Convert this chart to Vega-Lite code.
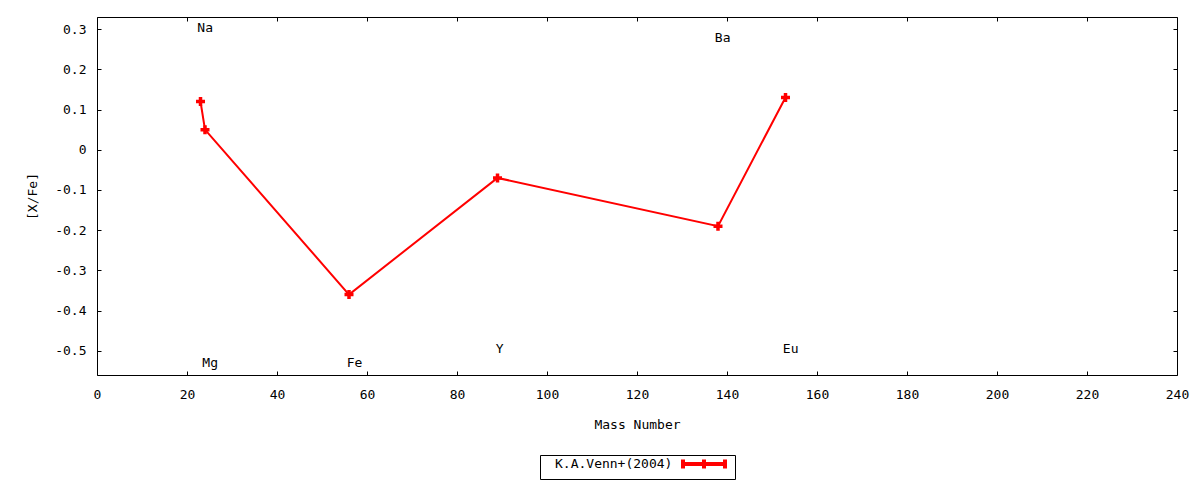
{
  "$schema": "https://vega.github.io/schema/vega-lite/v6.json",
  "width": 1080,
  "height": 358,
  "autosize": {"type": "none"},
  "padding": {"left": 97, "top": 17, "right": 23, "bottom": 105},
  "background": "white",
  "datasets": {
    "measurements": [
      {"element": "Na", "mass": 23, "xfe": 0.12, "source": "K.A.Venn+(2004)"},
      {"element": "Mg", "mass": 24, "xfe": 0.05, "source": "K.A.Venn+(2004)"},
      {"element": "Fe", "mass": 56, "xfe": -0.36, "source": "K.A.Venn+(2004)"},
      {"element": "Y", "mass": 89, "xfe": -0.07, "source": "K.A.Venn+(2004)"},
      {"element": "Ba", "mass": 138, "xfe": -0.19, "source": "K.A.Venn+(2004)"},
      {"element": "Eu", "mass": 153, "xfe": 0.13, "source": "K.A.Venn+(2004)"}
    ],
    "annotations": [
      {"label": "Na", "x": 22.3, "y": 0.302},
      {"label": "Mg", "x": 23.4, "y": -0.53},
      {"label": "Fe", "x": 55.5, "y": -0.53},
      {"label": "Y", "x": 88.6, "y": -0.495},
      {"label": "Ba", "x": 137.3, "y": 0.278},
      {"label": "Eu", "x": 152.4, "y": -0.495}
    ]
  },
  "config": {
    "view": {"stroke": "black", "strokeWidth": 1},
    "font": "DejaVu Sans Mono",
    "axis": {
      "domain": false,
      "grid": false,
      "ticks": true,
      "tickColor": "black",
      "tickSize": -4,
      "tickWidth": 1,
      "labelFlush": false,
      "labelFont": "DejaVu Sans Mono",
      "labelFontSize": 13,
      "labelColor": "black",
      "titleFont": "DejaVu Sans Mono",
      "titleFontSize": 13,
      "titleFontWeight": "normal",
      "titleColor": "black"
    },
    "legend": {"strokeWidth": 1}
  },
  "resolve": {"axis": {"x": "independent", "y": "independent"}},
  "layer": [
    {
      "data": {"name": "measurements"},
      "mark": {"type": "line", "strokeWidth": 2},
      "encoding": {
        "x": {
          "field": "mass", "type": "quantitative",
          "scale": {"domain": [0, 240], "nice": false, "zero": false},
          "axis": {
            "orient": "bottom",
            "values": [0, 20, 40, 60, 80, 100, 120, 140, 160, 180, 200, 220, 240],
            "format": "d",
            "labelPadding": 17,
            "title": "Mass Number",
            "titleX": 540,
            "titleY": 49,
            "titleBaseline": "middle",
            "titleAlign": "center"
          }
        },
        "y": {
          "field": "xfe", "type": "quantitative",
          "scale": {"domain": [-0.56, 0.33], "nice": false, "zero": false},
          "axis": {
            "orient": "left",
            "values": [-0.5, -0.4, -0.3, -0.2, -0.1, 0, 0.1, 0.2, 0.3],
            "labelExpr": "datum.value == 0 ? '0' : toString(round(datum.value * 10) / 10)",
            "labelPadding": 15,
            "title": "[X/Fe]",
            "titleX": -65,
            "titleY": 179,
            "titleBaseline": "middle",
            "titleAlign": "center",
            "titleAngle": -90
          }
        },
        "color": {
          "field": "source", "type": "nominal",
          "scale": {"domain": ["K.A.Venn+(2004)"], "range": ["#ff0000"]},
          "legend": {
            "orient": "none",
            "legendX": 443,
            "legendY": 438,
            "title": null,
            "strokeColor": "black",
            "fillColor": "white",
            "padding": 2,
            "cornerRadius": 0,
            "labelFont": "DejaVu Sans Mono",
            "labelFontSize": 13,
            "labelColor": "black",
            "symbolType": "M-4.2,0H4.2M-4.2,-0.9V0.9M0,-0.9V0.9M4.2,-0.9V0.9",
            "symbolSize": 100,
            "symbolStrokeWidth": 4,
            "symbolStrokeColor": "#ff0000",
            "symbolFillColor": "transparent",
            "symbolOffset": 155,
            "labelOffset": -156
          }
        }
      }
    },
    {
      "data": {"name": "measurements"},
      "mark": {
        "type": "point",
        "shape": "M-1,0H1M0,-1V1",
        "size": 81,
        "filled": false,
        "stroke": "#ff0000",
        "strokeWidth": 3.5,
        "opacity": 1
      },
      "encoding": {
        "x": {
          "field": "mass", "type": "quantitative",
          "axis": {"orient": "top", "values": [0, 20, 40, 60, 80, 100, 120, 140, 160, 180, 200, 220, 240], "labels": false, "title": null}
        },
        "y": {
          "field": "xfe", "type": "quantitative",
          "axis": {"orient": "right", "values": [-0.5, -0.4, -0.3, -0.2, -0.1, 0, 0.1, 0.2, 0.3], "labels": false, "title": null}
        }
      }
    },
    {
      "data": {"name": "annotations"},
      "mark": {"type": "text", "align": "left", "baseline": "middle", "fontSize": 13, "font": "DejaVu Sans Mono", "color": "black"},
      "encoding": {
        "x": {"field": "x", "type": "quantitative", "axis": null},
        "y": {"field": "y", "type": "quantitative", "axis": null},
        "text": {"field": "label", "type": "nominal"}
      }
    }
  ]
}
